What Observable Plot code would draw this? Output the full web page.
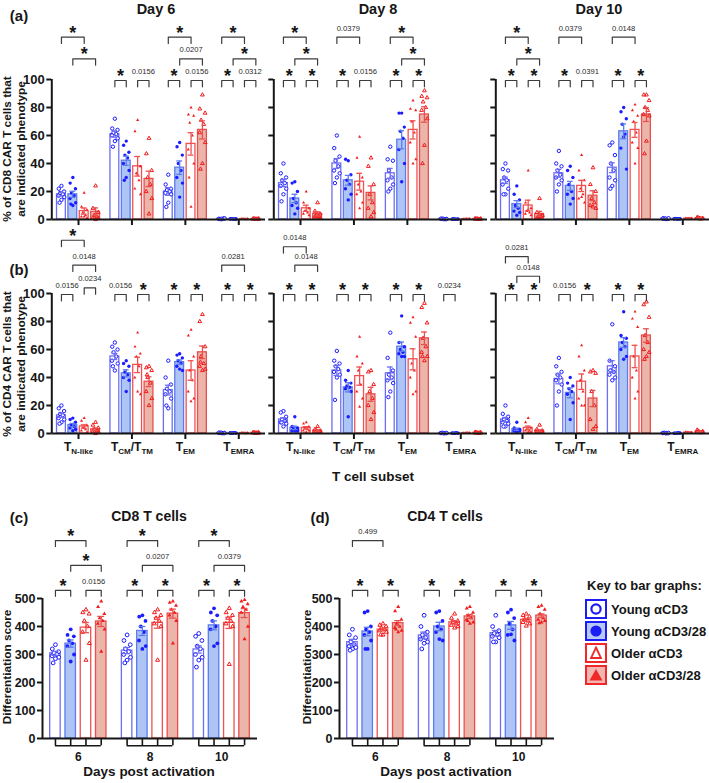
<!DOCTYPE html>
<html><head><meta charset="utf-8">
<script src="https://cdn.jsdelivr.net/npm/d3@7"></script>
<script src="https://cdn.jsdelivr.net/npm/@observablehq/plot@0.6"></script>
<style>
html,body{margin:0;padding:0;background:#fff}
body{font-family:"Liberation Sans",Arial,sans-serif;color:#111}
#fig{position:relative;width:709px;height:783px;overflow:hidden;background:#fff}
</style></head>
<body><div id="fig"></div>
<script>
// ---------------- DATA ----------------
const groups = ["Young αCD3", "Young αCD3/28", "Older αCD3", "Older αCD3/28"];
const subsetLabels = ["T_{N-like}", "T_{CM}/T_{TM}", "T_{EM}", "T_{EMRA}"];
const dayTitles = ["Day 6", "Day 8", "Day 10"];
const scoreDays = ["6", "8", "10"];
const pctTicks = [0, 20, 40, 60, 80, 100];
const scoreTicks = [0, 100, 200, 300, 400, 500];

// CD8 % phenotype: [subset][group]
const cd8Day6Mean = [[18,18,6,5.5],[61,42,38,29],[20,37,54,64],[0.5,0.4,0.3,0.4]];
const cd8Day6Sem = [[1.3,2.2,2.2,2.8],[2.2,3.3,7,5.5],[2.7,4.8,8,6.5],[0.1,0.1,0.1,0.1]];
const cd8Day6Pts = [
 [[24,22,20,19,18,17,16,14,12],[30,26,22,19,17,15,12,10,11],[19,9,7,5,3,2,1,2],[24,8,5,3,2,1,1,0]],
 [[72,65,64,62,61,60,58,56,52],[56,53,48,46,44,40,35,30,28],[71,63,38,33,28,22,18,32],[58,47,35,30,25,20,15,4]],
 [[32,25,22,21,20,19,18,12,9],[55,52,46,40,35,30,26,16],[80,75,74,69,60,50,40,9,30],[89,79,76,71,68,62,55,40,36]],
 [[0.2,0.5,0.8,0.3,0.6,0.4,0.7,0.5],[0.3,0.5,0.2,0.6,0.4,0.3,0.5,0.4],[0.2,0.4,0.3,0.5,0.1,0.3,0.4,0.2],[0.3,0.6,0.2,0.5,0.4,0.3,0.6,0.3]]
];
const cd8Day8Mean = [[26,15,8,4],[40,28,27,19],[33,57,64,75],[0.4,0.3,0.3,0.4]];
const cd8Day8Sem = [[2.5,3,2.2,1.5],[3.5,3.5,6,5],[3.5,6.5,6.5,5.5],[0.1,0.1,0.1,0.1]];
const cd8Day8Pts = [
 [[40,33,30,28,26,24,22,18,13],[27,26,20,15,12,10,8,4],[20,12,8,6,5,4,3,6],[12,6,4,3,2,2,1,2]],
 [[60,51,45,42,38,35,33,30,26],[42,43,32,28,25,22,18,14],[59,44,30,25,20,18,12,8],[44,38,25,18,12,8,5,2]],
 [[52,43,42,35,30,28,25,22,20],[76,76,66,63,58,50,40,27],[85,79,78,70,62,55,43,40],[92,88,87,84,80,78,72,53,40]],
 [[0.3,0.5,0.4,0.6,0.2,0.5,0.3,0.4],[0.2,0.4,0.3,0.5,0.3,0.2,0.4,0.3],[0.3,0.2,0.5,0.4,0.3,0.2,0.3,0.2],[0.4,0.6,0.3,0.5,0.2,0.4,0.5,0.3]]
];
const cd8Day10Mean = [[28,11,10,4],[33,24,24,17],[37,63,64,75],[0.6,0.5,0.6,0.9]];
const cd8Day10Sem = [[2.3,2.5,3.8,1.8],[2.8,3.2,4,3.5],[3.5,5.3,5.3,5],[0.1,0.1,0.2,0.3]];
const cd8Day10Pts = [
 [[40,36,35,30,28,25,22,18,18],[24,18,14,10,8,6,5,3],[35,12,8,6,5,4,3,7],[15,5,3,2,2,1,3,1]],
 [[49,40,38,35,32,30,28,25,20],[38,35,30,25,20,18,15,11],[46,35,28,22,18,15,12,16],[37,25,20,15,12,10,8,9]],
 [[55,53,46,40,35,30,28,24,22],[80,77,72,68,61,51,36,59],[82,78,74,70,62,55,51,40],[89,89,85,80,78,75,74,56,47]],
 [[0.4,0.8,0.5,0.7,0.3,0.6,0.9,0.6],[0.3,0.6,0.4,0.7,0.5,0.4,0.6,0.5],[0.5,0.9,0.4,0.7,0.6,0.3,0.8,0.6],[0.6,1.5,0.8,1.2,0.5,1,0.9,0.7]]
];

// CD4 % phenotype
const cd4Day6Mean = [[13,6,5,3],[55,43,49,37],[31,51,45,58],[0.4,0.4,0.3,0.5]];
const cd4Day6Sem = [[1.5,1.2,1.2,0.9],[2.2,2.5,5.5,3.5],[3.5,1.5,7,4.5],[0.1,0.1,0.1,0.1]];
const cd4Day6Pts = [
 [[20,18,16,14,13,11,10,8,7],[11,10,8,6,5,4,3,2],[11,9,6,4,3,2,1,4],[8,6,4,3,2,1,1,0]],
 [[65,62,60,58,55,52,50,45,48],[52,50,48,44,42,40,38,30],[72,62,57,55,48,40,28,30],[48,47,45,40,36,30,25,20,42]],
 [[52,40,35,32,30,28,25,18,20],[57,56,54,52,50,48,45,46],[74,70,55,45,38,30,25,23],[85,80,62,55,50,48,46,45,51]],
 [[0.3,0.5,0.4,0.6,0.2,0.5,0.3,0.4],[0.3,0.5,0.4,0.2,0.6,0.4,0.3,0.5],[0.2,0.4,0.3,0.5,0.1,0.3,0.4,0.2],[0.4,0.8,0.3,0.6,0.5,0.4,0.7,0.3]]
];
const cd4Day8Mean = [[10,4,4,2],[45,33,41,28],[43,62,53,68],[0.3,0.3,0.3,0.5]];
const cd4Day8Sem = [[1.2,1.2,0.9,0.5],[3.5,3.3,6.5,5],[4.5,3.3,7.5,4.5],[0.1,0.1,0.1,0.2]];
const cd4Day8Pts = [
 [[16,15,12,10,9,8,7,5,8],[12,5,4,3,2,2,2,2],[8,7,5,4,3,2,2,1],[5,3,2,2,1,1,1,1]],
 [[59,52,50,48,46,44,42,40,24],[45,38,36,34,33,32,30,12],[69,55,50,45,35,30,25,19],[45,44,35,30,25,20,15,10]],
 [[72,54,45,42,40,38,36,30,26],[84,65,62,60,58,57,55,55],[83,79,69,50,45,40,30,28],[93,90,79,68,62,58,55,52,55]],
 [[0.2,0.4,0.3,0.5,0.2,0.3,0.4,0.3],[0.2,0.4,0.3,0.3,0.5,0.2,0.3,0.4],[0.3,0.2,0.4,0.3,0.5,0.2,0.3,0.2],[0.4,1,0.3,0.6,0.5,0.4,0.8,0.3]]
];
const cd4Day10Mean = [[10,3,4,2],[39,29,37,25],[48,65,55,70],[0.3,0.3,0.6,1.2]];
const cd4Day10Sem = [[1.5,0.8,1.3,0.6],[3.5,3.5,5.5,5.8],[4,3.5,8,4.8],[0.1,0.1,0.2,0.4]];
const cd4Day10Pts = [
 [[20,14,12,10,9,8,7,5,5],[8,4,3,2,2,2,2,1],[11,8,4,3,2,2,1,1],[6,3,2,1,1,1,1,1]],
 [[54,48,44,42,40,38,35,30,20],[40,36,34,32,30,28,22,10],[63,55,45,38,30,25,20,20],[45,44,43,30,20,10,5,3]],
 [[78,52,48,45,44,42,40,38,45],[87,70,68,65,62,60,55,53],[87,82,76,55,45,40,30,25],[94,92,83,70,65,60,58,55,53]],
 [[0.2,0.4,0.3,0.5,0.2,0.3,0.4,0.3],[0.3,0.2,0.4,0.3,0.5,0.2,0.3,0.4],[0.4,1,0.5,0.8,0.6,0.3,0.7,0.5],[0.8,2.5,1,1.8,0.6,1.2,1.5,0.9]]
];

// Differentiation scores: [day][group]
const cd8ScoreMean = [[304,339,396,418],[314,384,413,446],[318,404,413,448]];
const cd8ScoreSem = [[7,13,18,18],[11,16,19,16],[13,16,20,16]];
const cd8ScorePts = [
 [[335,320,310,305,300,295,290,285,270],[390,370,365,350,340,330,300,275],[460,450,445,420,400,380,340,280],[490,470,445,430,420,410,390,310]],
 [[370,350,335,320,310,300,290,280,270],[440,435,420,400,380,350,330,320],[460,450,440,430,420,410,400,280],[490,485,475,460,450,440,420,340]],
 [[375,365,350,330,320,300,290,280,255],[465,450,440,420,400,390,340,330],[465,450,440,430,420,410,400,265],[495,490,480,470,460,450,400,355]]
];
const cd4ScoreMean = [[344,382,389,412],[368,400,415,436],[376,404,424,439]];
const cd4ScoreSem = [[10,15,5,9],[12,15,6,7],[10,14,5,6]];
const cd4ScorePts = [
 [[390,370,360,345,335,330,325,320,315],[455,450,400,390,380,370,350,320,320],[410,405,400,395,390,385,380,370,370],[470,455,425,410,400,395,385,380,390]],
 [[440,400,380,370,360,355,345,340,320],[455,450,420,400,390,380,350,355],[445,430,420,415,410,405,400,395],[470,465,450,440,430,425,415,410,420]],
 [[440,400,385,375,370,365,360,345,345],[460,450,430,410,390,370,350,372],[445,440,435,425,420,415,410,402],[475,470,460,445,430,425,420,415,412]]
];

// significance: [category, groupA, groupB, tier, label]
const cd8Day6Sig = [[0,0,2,3,"*"],[0,1,3,2,"*"],[1,0,1,1,"*"],[1,2,3,1,"0.0156"],[2,0,1,1,"*"],[2,2,3,1,"0.0156"],[2,1,3,2,"0.0207"],[2,0,2,3,"*"],[3,0,1,1,"*"],[3,2,3,1,"0.0312"],[3,1,3,2,"*"],[3,0,2,3,"*"]];
const cd8Day8Sig = [[0,0,2,3,"*"],[0,1,3,2,"*"],[0,0,1,1,"*"],[0,2,3,1,"*"],[1,0,2,3,"0.0379"],[1,0,1,1,"*"],[1,2,3,1,"0.0156"],[2,0,2,3,"*"],[2,1,3,2,"*"],[2,0,1,1,"*"],[2,2,3,1,"*"]];
const cd8Day10Sig = [[0,0,2,3,"*"],[0,1,3,2,"*"],[0,0,1,1,"*"],[0,2,3,1,"*"],[1,0,2,3,"0.0379"],[1,0,1,1,"*"],[1,2,3,1,"0.0391"],[2,0,2,3,"0.0148"],[2,0,1,1,"*"],[2,2,3,1,"*"]];
const cd4Day6Sig = [[0,0,1,1,"0.0156"],[0,2,3,1.3,"0.0234"],[0,1,3,2.35,"0.0148"],[0,0,2,3.5,"*"],[1,0,1,1,"0.0156"],[1,2,3,1,"*"],[2,0,1,1,"*"],[2,2,3,1,"*"],[3,0,1,1,"*"],[3,2,3,1,"*"],[3,0,2,2.35,"0.0281"]];
const cd4Day8Sig = [[0,0,2,3.2,"0.0148"],[0,1,3,2.35,"0.0148"],[0,0,1,1,"*"],[0,2,3,1,"*"],[1,0,1,1,"*"],[1,2,3,1,"*"],[2,0,1,1,"*"],[2,2,3,1,"*"],[3,0,1,1,"0.0234"]];
const cd4Day10Sig = [[0,0,2,2.74,"0.0281"],[0,1,3,1.84,"0.0148"],[0,0,1,1,"*"],[0,2,3,1,"*"],[1,0,1,1,"0.0156"],[1,2,3,1,"*"],[2,0,1,1,"*"],[2,2,3,1,"*"]];
const cd8ScoreSig = [[0,0,1,1,"*"],[0,2,3,1,"0.0156"],[0,1,3,2,"*"],[0,0,2,3,"*"],[1,0,1,1,"*"],[1,2,3,1,"*"],[1,1,3,2,"0.0207"],[1,0,2,3,"*"],[2,0,1,1,"*"],[2,2,3,1,"*"],[2,1,3,2,"0.0379"],[2,0,2,3,"*"]];
const cd4ScoreSig = [[0,0,1,1,"*"],[0,2,3,1,"*"],[0,0,2,3,"0.499"],[1,0,1,1,"*"],[1,2,3,1,"*"],[2,0,1,1,"*"],[2,2,3,1,"*"]];

// ---------------- STYLE ----------------
const INK = "#161616";
const FONT = "'Liberation Sans', Arial, sans-serif";
const barStyle = [
  {fill: "white", stroke: "#6e6ef2"},
  {fill: "#adc4f4", stroke: "#5c7cee"},
  {fill: "white", stroke: "#f05050"},
  {fill: "#ebb5aa", stroke: "#e85050"}
];
const BLUE = "#1c1cff", RED = "#f21c1c";
const dotsAB = [
  {symbol: "circle", fill: "white", stroke: BLUE, r: 1.7},
  {symbol: "circle", fill: BLUE, r: 1.7},
  {symbol: "triangle", fill: RED, r: 1.15},
  {symbol: "triangle", fill: "none", stroke: RED, r: 1.4}
];
const dotsCD = [
  {symbol: "circle", fill: "white", stroke: BLUE, r: 1.9},
  {symbol: "circle", fill: BLUE, r: 1.9},
  {symbol: "triangle", fill: "none", stroke: RED, r: 1.5},
  {symbol: "triangle", fill: RED, r: 1.5}
];
const jit = [0, -0.3, 0.3, -0.15, 0.15, -0.32, 0.32, 0, -0.22, 0.22];
const plotStyle = {background: "transparent", overflow: "visible", fontFamily: FONT, color: INK, maxWidth: "none"};

// ---------------- HELPERS ----------------
function groupMarks(means, sems, pts, xpos, barW, dotStyles, capFrac) {
  const marks = [];
  for (let g = 0; g < 4; g++) {
    const bars = means.map((row, c) => ({x: xpos(c, g), m: row[g], s: sems[c][g], v: pts[c][g]}));
    const st = barStyle[g];
    marks.push(Plot.rect(bars, {x1: d => d.x - barW / 2, x2: d => d.x + barW / 2, y1: 0, y2: "m",
      fill: st.fill, stroke: st.stroke, strokeWidth: 1.3}));
    const dots = bars.flatMap(b => b.v.map((v, i) => ({x: b.x + jit[i % jit.length] * barW, y: v})));
    const ds = dotStyles[g];
    marks.push(Plot.dot(dots, {x: "x", y: "y", symbol: ds.symbol, r: ds.r, fill: ds.fill,
      stroke: ds.stroke || "none", strokeWidth: 1}));
    marks.push(Plot.ruleX(bars, {x: "x", y1: d => Math.max(0, d.m - d.s), y2: d => d.m + d.s, stroke: st.stroke, strokeWidth: 1.3}));
    const caps = bars.flatMap(b => [{x: b.x, y: Math.max(0, b.m - b.s)}, {x: b.x, y: b.m + b.s}]);
    marks.push(Plot.ruleY(caps, {x1: d => d.x - barW * capFrac, x2: d => d.x + barW * capFrac, y: "y", stroke: st.stroke, strokeWidth: 1.3}));
  }
  return marks;
}

function bracketMarks(sig, xpos, tierVal, drop) {
  const lines = sig.flatMap(([c, a, b, t], i) => {
    const x1 = xpos(c, a), x2 = xpos(c, b), y = tierVal(t);
    return [{id: i, x: x1, y: y - drop}, {id: i, x: x1, y}, {id: i, x: x2, y}, {id: i, x: x2, y: y - drop}];
  });
  const labels = sig.map(([c, a, b, t, lab]) => ({x: (xpos(c, a) + xpos(c, b)) / 2, y: tierVal(t), lab}));
  return [
    Plot.line(lines, {x: "x", y: "y", z: "id", stroke: "#3c3c3c", strokeWidth: 1.2}),
    Plot.text(labels.filter(d => d.lab !== "*"), {x: "x", y: "y", text: "lab", dy: -9, fontSize: 7.6, fill: "#2a2a2a"}),
    Plot.text(labels.filter(d => d.lab === "*"), {x: "x", y: "y", text: "lab", dy: -4.2, fontSize: 18, fontWeight: "bold", fill: INK})
  ];
}

function subscriptify(svg) {
  svg.querySelectorAll("text").forEach(t => {
    const s = t.textContent;
    if (!s.includes("_{")) return;
    t.textContent = "";
    let sub = false;
    s.split(/(_\{[^}]*\})/).filter(Boolean).forEach(p => {
      const ts = document.createElementNS("http://www.w3.org/2000/svg", "tspan");
      if (p.startsWith("_{")) {
        ts.textContent = p.slice(2, -1);
        ts.setAttribute("font-size", "8");
        ts.setAttribute("dy", sub ? "0" : "3");
        sub = true;
      } else {
        ts.textContent = p;
        ts.setAttribute("dy", sub ? "-3" : "0");
        sub = false;
      }
      t.appendChild(ts);
    });
  });
}

function phenoPanel(means, sems, pts, sig, yLabels, xLabels) {
  const pitch = 0.213, barW = 0.165;
  const xpos = (c, g) => c + 0.5 + (g - 1.5) * pitch;
  const tier = t => 99.3 + (t - 1) * 15.5;
  const marks = [
    ...groupMarks(means, sems, pts, xpos, barW, dotsAB, 0.33),
    ...bracketMarks(sig, xpos, tier, 4.5),
    Plot.ruleY([0], {stroke: INK, strokeWidth: 2}),
    Plot.ruleX([0], {y1: 0, y2: 100, stroke: INK, strokeWidth: 2}),
    Plot.axisY({ticks: pctTicks, tickSize: 5, tickPadding: 2, strokeWidth: 2, fontSize: 13, fontWeight: "bold", color: INK, label: null,
      tickFormat: yLabels ? d => String(d) : () => ""}),
    Plot.axisX({ticks: [0.5, 1.5, 2.5, 3.5], tickSize: 6, tickPadding: 3, strokeWidth: 2, fontSize: 12, fontWeight: "bold", color: INK, label: null,
      tickFormat: xLabels ? d => subsetLabels[Math.floor(d)] : () => ""})
  ];
  const svg = Plot.plot({width: 265, height: 250, marginLeft: 51.3, marginRight: 0, marginTop: 9, marginBottom: 31,
    x: {domain: [0, 4], label: null}, y: {domain: [0, 150], label: null}, style: plotStyle, marks});
  subscriptify(svg);
  return svg;
}

function scorePanel(means, sems, pts, sig) {
  const pitch = 0.213, barW = 0.146;
  const xpos = (c, g) => c + 0.5 + (g - 1.5) * pitch;
  const tier = t => 529 + (t - 1) * 89;
  const combTicks = scoreDays.flatMap((d, c) => [0, 1, 2, 3].map(g => ({x: xpos(c, g)})));
  const combBars = scoreDays.map((d, c) => ({x1: xpos(c, 0), x2: xpos(c, 3), xc: c + 0.5, label: d}));
  const marks = [
    ...groupMarks(means, sems, pts, xpos, barW, dotsCD, 0.33),
    ...bracketMarks(sig, xpos, tier, 21),
    Plot.ruleY([0], {stroke: INK, strokeWidth: 2}),
    Plot.ruleX([0], {y1: 0, y2: 500, stroke: INK, strokeWidth: 2}),
    Plot.axisY({ticks: scoreTicks, tickSize: 5, tickPadding: 2, strokeWidth: 2, fontSize: 12.5, fontWeight: "bold", color: INK, label: null}),
    Plot.ruleX(combTicks, {x: "x", y1: () => 0, y2: () => -26, stroke: INK, strokeWidth: 1.6}),
    Plot.ruleY(combBars, {x1: "x1", x2: "x2", y: () => -26, stroke: INK, strokeWidth: 1.6}),
    Plot.text(combBars, {x: "xc", y: () => -26, text: "label", dy: 11, fontSize: 12, fontWeight: "bold", fill: INK})
  ];
  return Plot.plot({width: 257, height: 278, marginLeft: 42, marginRight: 0, marginTop: 9, marginBottom: 45,
    x: {domain: [0, 3], axis: null, label: null}, y: {domain: [0, 800], label: null}, style: plotStyle, marks});
}

// ---------------- LAYOUT ----------------
const fig = document.getElementById("fig");
function put(el, left, top) {
  const d = document.createElement("div");
  d.style.cssText = `position:absolute;left:${left}px;top:${top}px;`;
  d.appendChild(el);
  fig.appendChild(d);
}
function label(text, cx, cy, size, opts = {}) {
  const d = document.createElement("div");
  if (opts.html) d.innerHTML = text; else d.textContent = text;
  d.style.cssText = `position:absolute;left:${cx}px;top:${cy}px;transform:translate(-50%,-50%)${opts.rotate ? " rotate(-90deg)" : ""};` +
    `font-size:${size}px;font-weight:${opts.weight || 700};white-space:nowrap;text-align:center;line-height:${opts.lh || 1.15};color:${INK};`;
  fig.appendChild(d);
}

// rows (a) and (b)
put(phenoPanel(cd8Day6Mean, cd8Day6Sem, cd8Day6Pts, cd8Day6Sig, true, false), 0, 0);
put(phenoPanel(cd8Day8Mean, cd8Day8Sem, cd8Day8Pts, cd8Day8Sig, false, false), 222, 0);
put(phenoPanel(cd8Day10Mean, cd8Day10Sem, cd8Day10Pts, cd8Day10Sig, false, false), 444, 0);
put(phenoPanel(cd4Day6Mean, cd4Day6Sem, cd4Day6Pts, cd4Day6Sig, true, true), 0, 214);
put(phenoPanel(cd4Day8Mean, cd4Day8Sem, cd4Day8Pts, cd4Day8Sig, false, true), 222, 214);
put(phenoPanel(cd4Day10Mean, cd4Day10Sem, cd4Day10Pts, cd4Day10Sig, false, true), 444, 214);
// rows (c) and (d)
put(scorePanel(cd8ScoreMean, cd8ScoreSem, cd8ScorePts, cd8ScoreSig), 0, 505);
put(scorePanel(cd4ScoreMean, cd4ScoreSem, cd4ScorePts, cd4ScoreSig), 297, 505);

// titles and labels
label("(a)", 19, 16, 15);
label(dayTitles[0], 156, 9, 14.5);
label(dayTitles[1], 378, 9, 14.5);
label(dayTitles[2], 599, 9, 14.5);
label("% of CD8 CAR T cells that<br>are indicated phenotype", 14, 149, 11.8, {html: true, rotate: true, lh: 1.2});
label("(b)", 19, 270, 15);
label("% of CD4 CAR T cells that<br>are indicated phenotype", 14, 364, 11.8, {html: true, rotate: true, lh: 1.2});
label("T cell subset", 373, 477, 13.5);
label("(c)", 19, 518, 15);
label("CD8 T cells", 149, 516, 14);
label("(d)", 320, 518, 15);
label("CD4 T cells", 445, 516, 14);
label("Differentiation score", 8, 667, 11.8, {rotate: true});
label("Differentiation score", 308, 667, 11.8, {rotate: true});
label("Days post activation", 149, 772, 13.5);
label("Days post activation", 446, 772, 13.5);

// legend
const legendLook = [
  {border: "#1c1cf5", bg: "#ffffff", icon: `<circle cx="9" cy="8" r="4.6" fill="none" stroke="#1c1cf5" stroke-width="2.2"/>`},
  {border: "#1c1cf5", bg: "#b6c8f6", icon: `<circle cx="9" cy="8" r="5.6" fill="#1c1cf5"/>`},
  {border: "#f02828", bg: "#ffffff", icon: `<polygon points="9,2.5 14,13 4,13" fill="none" stroke="#f02828" stroke-width="1.8"/>`},
  {border: "#f02828", bg: "#f3b5b0", icon: `<polygon points="9,2 15.5,13.5 2.5,13.5" fill="#f02828"/>`}
];
const key = document.createElement("div");
key.style.cssText = `position:absolute;left:587px;top:578px;font-size:13px;font-weight:700;color:${INK};white-space:nowrap;`;
key.textContent = "Key to bar graphs:";
fig.appendChild(key);
groups.forEach((gname, g) => {
  const lk = legendLook[g];
  const box = document.createElement("div");
  box.style.cssText = `position:absolute;left:585px;top:${599 + 22 * g}px;width:18px;height:16px;border:2px solid ${lk.border};background:${lk.bg};`;
  box.innerHTML = `<svg width="18" height="16" style="display:block">${lk.icon}</svg>`;
  fig.appendChild(box);
  const t = document.createElement("div");
  t.style.cssText = `position:absolute;left:611px;top:${609 + 22 * g}px;transform:translateY(-50%);font-size:13px;font-weight:700;color:${INK};white-space:nowrap;`;
  t.textContent = gname;
  fig.appendChild(t);
});
</script>
</body></html>
